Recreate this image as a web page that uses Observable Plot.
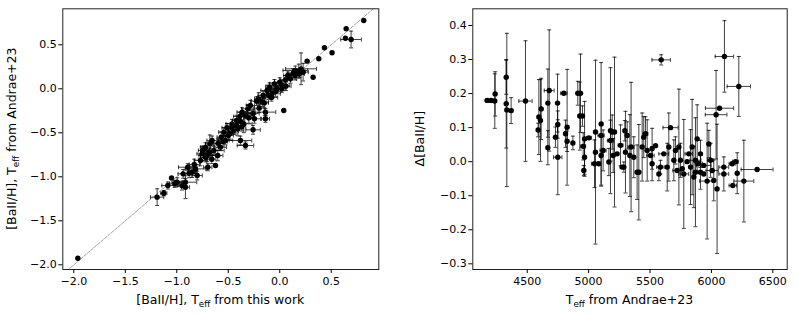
<!DOCTYPE html>
<html><head><meta charset="utf-8">
<script src="https://cdn.jsdelivr.net/npm/d3@7"></script>
<script src="https://cdn.jsdelivr.net/npm/@observablehq/plot@0.6"></script>
<style>
body{margin:0;background:#fff;}
#wrap{position:relative;width:798px;height:316px;font-family:"DejaVu Sans",sans-serif;}
#left,#right{position:absolute;top:0;}
#left{left:0px} #right{left:400px}
</style></head><body><div id="wrap"><div id="left"></div><div id="right"></div></div>
<script>
// ---- Left panel: [BaII/H] this work vs Andrae+23 ----
const leftX = [-1.191,-1.126,-1.087,-1.051,-0.996,-0.916,-0.938,-0.916,-0.893,-0.851,
 -0.818,-0.802,-0.770,-0.754,-0.721,-0.705,-0.679,-0.657,-0.640,-0.624,
 -0.699,-0.602,-0.576,-0.569,-0.543,-0.527,-0.511,-0.485,-0.463,-0.382,
 -0.420,-0.407,-0.388,-0.365,-0.349,-0.333,-0.310,-0.285,-0.259,-0.246,
 -0.226,-0.204,-0.139,-0.162,-0.139,-0.123,-0.097,-0.074,-0.052,-0.026,
 0.000,0.023,0.039,0.055,0.078,0.104,0.130,0.152,0.185,0.207,
 0.227,0.266,0.324,0.379,0.434,0.508,0.638,0.645,0.693,0.816,
 -1.961,-0.750,-0.680,-0.600,-0.550,-0.450,-0.420,-0.370,-0.300,-0.260,
 -0.200,-0.150,-0.080,-0.040,0.020,0.060,-1.020,-0.880,-0.830,-0.660,
 -0.500,-0.380,-0.330,-0.170,-0.110,0.150,0.190,-0.950,-0.720,-0.470];
const leftY = [-1.231,-1.186,-1.099,-1.012,-1.061,-1.061,-0.966,-1.118,-0.891,-0.947,
 -0.910,-0.985,-0.815,-0.739,-0.663,-0.758,-0.625,-0.587,-0.701,-0.872,
 -0.891,-0.758,-0.663,-0.550,-0.493,-0.587,-0.443,-0.512,-0.398,-0.587,
 -0.360,-0.455,-0.315,-0.265,-0.398,-0.644,-0.228,-0.190,-0.466,-0.341,
 -0.140,-0.114,-0.265,-0.076,-0.341,-0.019,0.019,-0.057,0.056,0.000,
 0.075,0.038,-0.246,0.102,0.151,0.113,0.178,0.208,0.200,0.227,
 0.189,0.314,0.132,0.341,0.466,0.409,0.575,0.682,0.560,0.776,
 -1.925,-0.700,-0.720,-0.620,-0.600,-0.480,-0.420,-0.430,-0.330,-0.280,
 -0.220,-0.160,-0.100,-0.030,0.000,0.030,-1.080,-0.960,-0.860,-0.800,
 -0.530,-0.370,-0.300,-0.150,-0.070,0.150,0.170,-1.100,-0.780,-0.440];
const leftXErr = [0.065,0.03,0.058,0,0.05,0.11,0.05,0.04,0.09,0.04,
 0.10,0.05,0.06,0.05,0.05,0.08,0.04,0.05,0.10,0,
 0.04,0.05,0.06,0.04,0.05,0.07,0.05,0.06,0.06,0.11,
 0.04,0.05,0.06,0.05,0.08,0.08,0.06,0.04,0.07,0.06,
 0.05,0.04,0.10,0.05,0.04,0.06,0.04,0.08,0.05,0.06,
 0.05,0.07,0,0.05,0.04,0.06,0.05,0.12,0.06,0.15,
 0.05,0,0,0,0,0,0,0,0.10,0,
 0,0.04,0.05,0.06,0.04,0.05,0.06,0.04,0.05,0.06,
 0.05,0.04,0.06,0.05,0.04,0.05,0.05,0.06,0.05,0.04,
 0.05,0.04,0.05,0.06,0.05,0.04,0.05,0.04,0.05,0.06];
const leftYErr = [0.095,0.03,0.04,0,0.05,0.04,0.05,0.13,0.04,0.06,
 0.05,0.05,0.06,0.08,0.05,0.07,0.10,0.05,0.05,0,
 0.04,0.06,0.04,0.06,0.05,0.05,0.05,0.06,0.05,0.05,
 0.06,0.08,0.05,0.05,0.10,0.04,0.05,0.06,0.05,0.05,
 0.05,0.07,0.04,0.05,0.04,0.06,0.05,0.05,0.05,0.04,
 0.05,0.06,0,0.05,0.04,0.05,0.05,0.05,0.08,0.18,
 0.10,0,0,0,0,0,0,0,0.095,0,
 0,0.05,0.04,0.05,0.06,0.04,0.05,0.05,0.06,0.04,
 0.05,0.05,0.04,0.06,0.04,0.05,0.04,0.05,0.06,0.05,
 0.05,0.06,0.04,0.05,0.05,0.05,0.04,0.05,0.05,0.05];
const leftTicks = [-2.0,-1.5,-1.0,-0.5,0.0,0.5];
const identityLine = [-2.3, 1.1];

// ---- Right panel: Delta[BaII/H] vs Teff from Andrae+23 ----
const rightTeff = [4174,4207,4236,4239,4329,4329,4334,4369,4486,4595,
 4608,4589,4614,4668,4679,4668,4747,4749,4730,4749,
 4798,4825,4812,4825,4872,4912,4934,4928,4950,4967,
 4956,4967,4961,5002,5056,5048,5102,5102,5102,5118,
 5178,5192,5211,5178,5165,5200,5273,5287,5295,5314,
 5346,5336,5368,5395,5409,5436,5449,5463,5477,5517,
 5504,5591,5585,5572,5653,5667,5640,5694,5735,5748,
 5775,5816,5843,5884,5830,5870,5897,5857,5911,5979,
 5993,6019,6038,6066,6106,6223,6046,6210,6264,6372,
 6169,6196,6101,6101,6174,6006,5965,5938,5802,5762,
 5707,5612,5545,5517,5260,5232,5300,5056,5083,5911,
 5938,5870,5721];
const rightDelta = [0.180,0.180,0.178,0.199,0.248,0.170,0.152,0.150,0.178,0.131,
 0.121,0.093,0.155,0.172,0.209,0.041,0.172,0.109,0.072,0.013,
 0.201,0.101,0.082,0.060,0.055,0.201,0.201,0.134,0.134,0.067,
 0.045,0.013,-0.026,0.070,0.028,-0.006,0.111,0.077,0.018,0.033,
 0.091,0.087,0.087,0.062,-0.001,0.018,-0.016,-0.016,0.091,0.077,
 0.043,0.018,0.013,-0.031,-0.031,0.043,0.072,0.082,0.033,0.038,
 0.018,0.299,-0.016,-0.036,0.043,0.100,-0.016,0.004,0.043,0.004,
 -0.036,0.023,0.043,0.067,-0.016,-0.031,-0.006,-0.045,-0.031,0.052,
 0.004,-0.055,0.138,0.157,0.309,0.221,-0.080,-0.034,-0.057,-0.023,
 -0.006,0.000,-0.016,-0.036,-0.070,-0.026,-0.057,-0.011,0.000,-0.021,
 0.033,0.023,0.047,-0.006,0.048,0.023,0.028,0.087,-0.006,0.023,
 -0.036,0.004,-0.026];
const rightTeffErr = [15,15,0,0,0,0,0,15,54,0,
 0,0,0,0,40,0,0,0,0,34,
 25,0,0,0,0,0,0,0,0,0,
 20,0,0,20,0,25,0,25,0,25,
 0,0,0,25,0,0,15,0,0,0,
 25,0,0,0,0,0,0,20,0,0,
 30,75,30,0,0,61,0,0,0,0,
 40,30,0,0,0,0,30,0,0,0,
 25,0,88,115,75,95,0,0,81,130,
 25,25,40,40,30,50,60,60,0,0,
 0,40,0,0,20,0,0,0,0,0,
 0,45,35];
const rightDeltaErr = [0,0,0.08,0.065,0.05,0.13,0.225,0.038,0.177,0.11,
 0.12,0.02,0.09,0.10,0.178,0.05,0.085,0.04,0.03,0.11,
 0,0.17,0.04,0.03,0.02,0.035,0.115,0.10,0.03,0.11,
 0.04,0.05,0.015,0,0.27,0.07,0.18,0,0.09,0.06,
 0.185,0.05,0.22,0.06,0.04,0.05,0,0.015,0.03,0.04,
 0.19,0.12,0.06,0.08,0.14,0.10,0.06,0.05,0.09,0.06,
 0,0.015,0.02,0.02,0.10,0,0.07,0.06,0.17,0.05,
 0.16,0,0.14,0.10,0.11,0.16,0,0.09,0.05,0.04,
 0.05,0.06,0.13,0,0.105,0.088,0.19,0.06,0.12,0,
 0,0,0,0.05,0,0,0.17,0,0,0,
 0.04,0,0,0.05,0.06,0,0.12,0,0,0.04,
 0,0,0];
const rightXTicks = [4500,5000,5500,6000,6500];
const rightYTicks = [-0.3,-0.2,-0.1,0.0,0.1,0.2,0.3,0.4];

// ---- helpers ----
const hCap = {draw(ctx, size){const r=Math.sqrt(size/Math.PI); ctx.moveTo(-r,0); ctx.lineTo(r,0);}};
const vCap = {draw(ctx, size){const r=Math.sqrt(size/Math.PI); ctx.moveTo(0,-r); ctx.lineTo(0,r);}};
const rowsOf = (xs, ys, xe, ye) => xs.map((x,i)=>({x, y:ys[i], xe:xe[i], ye:ye[i]}));
function errMarks(rows){
  const ye = rows.filter(d=>d.ye>0), xe = rows.filter(d=>d.xe>0);
  const st = {stroke:"#000", strokeOpacity:0.75, strokeWidth:1};
  return [
    Plot.ruleX(ye,{x:"x", y1:d=>d.y-d.ye, y2:d=>d.y+d.ye, ...st}),
    Plot.ruleY(xe,{y:"y", x1:d=>d.x-d.xe, x2:d=>d.x+d.xe, ...st}),
    Plot.dot(ye,{x:"x", y:d=>d.y-d.ye, symbol:hCap, r:2, fill:"none", ...st}),
    Plot.dot(ye,{x:"x", y:d=>d.y+d.ye, symbol:hCap, r:2, fill:"none", ...st}),
    Plot.dot(xe,{x:d=>d.x-d.xe, y:"y", symbol:vCap, r:2, fill:"none", ...st}),
    Plot.dot(xe,{x:d=>d.x+d.xe, y:"y", symbol:vCap, r:2, fill:"none", ...st}),
    Plot.dot(rows,{x:"x", y:"y", r:2.7, fill:"#000", stroke:"none"})
  ];
}
const fmt = d3.format(".1f");
const style = {fontFamily:"DejaVu Sans, sans-serif", fontSize:"11px", background:"#fff", color:"#000", overflow:"visible"};
const LABEL_SIZE = 12.5;

function addLabels(svg, cfg){
  const s = d3.select(svg);
  const xl = s.append("text").attr("x", cfg.xlx).attr("y", cfg.xly)
    .attr("text-anchor","middle").attr("font-size", LABEL_SIZE).attr("fill","#000")
    .attr("font-family","DejaVu Sans, sans-serif");
  appendParts(xl, cfg.xparts);
  const yl = s.append("text").attr("transform", `translate(${cfg.ylx},${cfg.yly}) rotate(-90)`)
    .attr("text-anchor","middle").attr("font-size", LABEL_SIZE).attr("fill","#000")
    .attr("font-family","DejaVu Sans, sans-serif");
  appendParts(yl, cfg.yparts);
}
function appendParts(t, parts){
  let shifted = false;
  parts.forEach(p => {
    if (p.sub) {
      t.append("tspan").attr("font-size", LABEL_SIZE*0.7).attr("dy", 3).text(p.sub);
      shifted = true;
    } else {
      const ts = t.append("tspan").text(p.t);
      if (shifted) { ts.attr("dy", -3); shifted = false; }
    }
  });
}

// ---- left plot ----
const leftRows = rowsOf(leftX, leftY, leftXErr, leftYErr);
const plotL = Plot.plot({
  width:400, height:316, marginLeft:62.3, marginRight:400-378.3, marginTop:8.3, marginBottom:316-269,
  style,
  x:{domain:[-2.107,0.962], label:null},
  y:{domain:[-2.053,0.909], label:null},
  marks:[
    Plot.line(identityLine.map(v=>({v})), {x:"v", y:"v", stroke:"#888", strokeWidth:0.8, strokeDasharray:"3,1.5", clip:true}),
    ...errMarks(leftRows),
    Plot.frame({stroke:"#222", strokeWidth:1}),
    Plot.axisX({ticks:leftTicks, tickFormat:fmt, tickSize:4, tickPadding:4, label:null, fontSize:11}),
    Plot.axisY({ticks:leftTicks, tickFormat:fmt, tickSize:4, tickPadding:2, label:null, fontSize:11})
  ]
});
document.getElementById("left").append(plotL);
addLabels(plotL, {
  xlx:(62.3+378.3)/2, xly:304,
  xparts:[{t:"[BaII/H], T"},{sub:"eff"},{t:" from this work"}],
  ylx:16, yly:(8.3+269)/2,
  yparts:[{t:"[BaII/H], T"},{sub:"eff"},{t:" from Andrae+23"}]
});

// ---- right plot ----
const rightRows = rowsOf(rightTeff, rightDelta, rightTeffErr, rightDeltaErr);
const plotR = Plot.plot({
  width:398, height:316, marginLeft:72.3, marginRight:398-386.7, marginTop:8.3, marginBottom:316-269,
  style,
  x:{domain:[4057,6617], label:null},
  y:{domain:[-0.3167,0.449], label:null},
  marks:[
    ...errMarks(rightRows),
    Plot.frame({stroke:"#222", strokeWidth:1}),
    Plot.axisX({ticks:rightXTicks, tickFormat:d=>String(d), tickSize:4, tickPadding:4, label:null, fontSize:11}),
    Plot.axisY({ticks:rightYTicks, tickFormat:fmt, tickSize:4, tickPadding:2, label:null, fontSize:11})
  ]
});
document.getElementById("right").append(plotR);
addLabels(plotR, {
  xlx:(72.3+386.7)/2, xly:304,
  xparts:[{t:"T"},{sub:"eff"},{t:" from Andrae+23"}],
  ylx:24, yly:(8.3+269)/2,
  yparts:[{t:"\u0394[BaII/H]"}]
});
</script></body></html>
